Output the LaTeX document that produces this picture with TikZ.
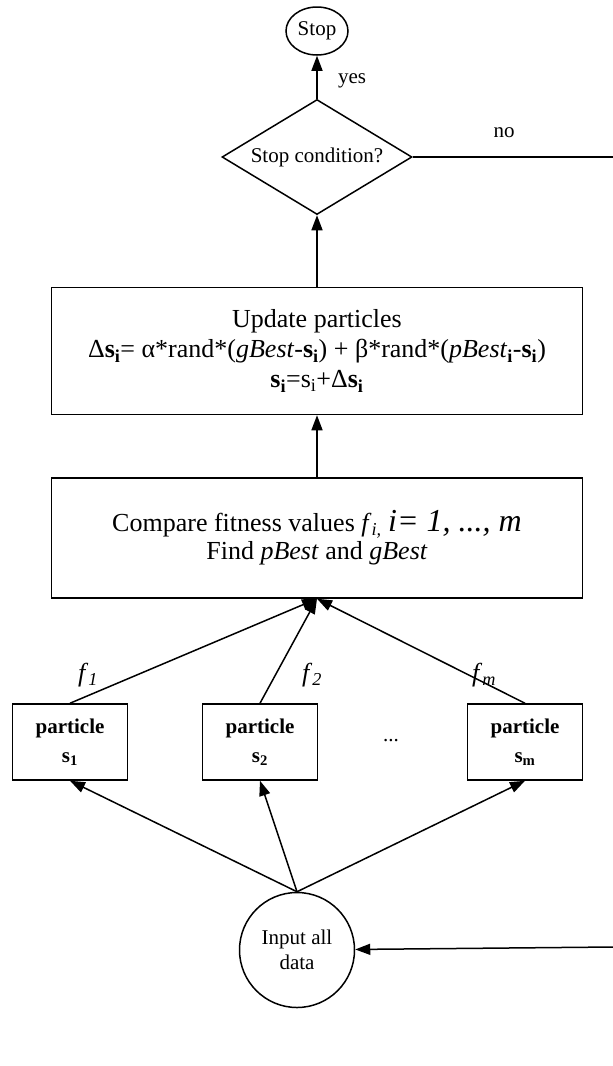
\documentclass[tikz,border=0pt]{standalone}
\usepackage{fontspec}
\setmainfont{Liberation Serif}
\usetikzlibrary{positioning,arrows.meta,shapes.geometric}
\newcommand{\sbold}[1]{\textbf{s}\textsubscript{\textbf{#1}}}
\newcommand{\splain}[1]{s\textsubscript{#1}}
\newcommand{\fval}[1]{\textit{f}\textsubscript{\textit{#1}}}
\begin{document}
\begin{tikzpicture}[x=1pt,y=-1pt,line width=1.5pt,
		arr/.style={-{Triangle[length=15pt,width=11pt]}},
		lbl/.style={font=\fontsize{21}{25}\selectfont},
		bigbox/.style={draw,rectangle,minimum width=531pt,align=center,font=\fontsize{26}{30}\selectfont},
		partbox/.style={draw,rectangle,minimum width=115pt,minimum height=76pt,align=center,font=\fontsize{21}{25}\selectfont\bfseries}]
		\useasboundingbox (0,0) rectangle (613,1066);
		% stop test
		\node[draw,ellipse,minimum width=62pt,minimum height=48pt,inner sep=0pt,lbl] (stop) at (317,31) {Stop};
		\node[draw,diamond,aspect=1.67,minimum width=190pt,minimum height=115pt,inner sep=0pt,lbl] (cond) at (317,157) {Stop condition?};
		\node[lbl] (yes) at (352,81) {yes};
		\node[lbl] (no) at (504,133) {no};
		\coordinate (noend) at (613,157);
		% main boxes
		\node[bigbox,minimum height=127pt] (update) at (317,351) {Update particles\\
			Δ\sbold{i}= α*rand*(\textit{gBest}-\sbold{i}) + β*rand*(\textit{pBest}\textsubscript{\textbf{i}}-\sbold{i})\\
			\sbold{i}=\splain{i}+Δ\sbold{i}};
		\node[bigbox,minimum height=120pt] (compare) at (317,538) {Compare fitness values \fval{i,} {\fontsize{32}{30}\selectfont\itshape i= 1, ..., m}\\[-2pt]
			Find \textit{pBest} and \textit{gBest}};
		% particles
		\node[partbox] (p1) at (70,742) {particle\\[4pt]\sbold{1}};
		\node[partbox] (p2) at (260,742) {particle\\[4pt]\sbold{2}};
		\node[partbox] (pm) at (525,742) {particle\\[4pt]\sbold{m}};
		\node[lbl] (dots) at (391,741) {...};
		\node[font=\fontsize{26}{30}\selectfont] (f1) at (88,675) {\fval{1}};
		\node[font=\fontsize{26}{30}\selectfont] (f2) at (312,675) {\fval{2}};
		\node[font=\fontsize{26}{30}\selectfont] (fm) at (484,675) {\fval{m}};
		\node[draw,circle,minimum size=115pt,inner sep=0pt,align=center,lbl] (input) at (297,950) {Input all\\data};
		\coordinate (backin) at (613,947);
		% connectors
		\draw[arr] (cond) -- (stop);
		\draw (cond.east) -- (noend);
		\draw[arr] (update) -- (cond);
		\draw[arr] (compare) -- (update);
		\draw[arr] (p1.north) -- (compare.south);
		\draw[arr] (p2.north) -- (compare.south);
		\draw[arr] (pm.north) -- (compare.south);
		\draw[arr] (input.north) -- (p1.south);
		\draw[arr] (input.north) -- (p2.south);
		\draw[arr] (input.north) -- (pm.south);
		\draw[arr] (backin) -- (input);
	\end{tikzpicture}
\end{document}
